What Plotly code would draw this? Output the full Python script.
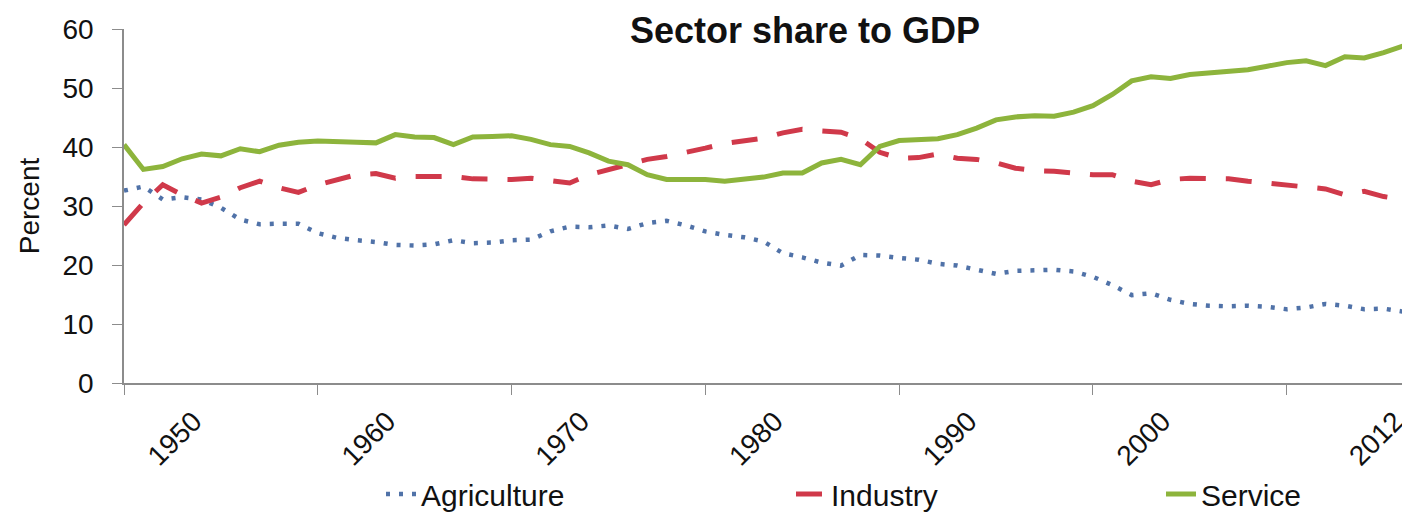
import plotly.graph_objects as go

years = list(range(1946, 2013))

agriculture = [32.6, 33.3, 31.1, 31.5, 31.1, 29.7, 27.7, 26.9, 27.0, 27.0,
               25.4, 24.6, 24.2, 23.9, 23.4, 23.3, 23.5, 24.2, 23.7, 23.8,
               24.2, 24.3, 25.7, 26.5, 26.4, 26.7, 26.1, 27.1, 27.5, 26.7,
               25.7, 25.1, 24.7, 24.0, 22.0, 21.3, 20.4, 19.9, 21.7, 21.6,
               21.2, 20.9, 20.2, 19.9, 19.2, 18.5, 19.0, 19.1, 19.2, 18.9,
               18.0, 16.6, 14.9, 15.2, 14.1, 13.4, 13.1, 13.0, 13.1, 12.9,
               12.5, 12.8, 13.4, 13.1, 12.5, 12.6, 12.1]

industry = [26.8, 30.5, 33.6, 31.9, 30.5, 31.5, 33.1, 34.2, 33.1, 32.3,
            33.6, 34.5, 35.3, 35.5, 34.7, 35.0, 35.1, 35.0, 34.6, 34.5,
            34.5, 34.7, 34.2, 33.9, 35.3, 36.2, 37.0, 37.9, 38.4, 39.0,
            39.8, 40.6, 41.0, 41.5, 42.4, 43.0, 42.7, 42.5, 41.4, 39.1,
            38.1, 38.2, 38.8, 38.1, 37.9, 37.3, 36.4, 36.0, 35.9, 35.5,
            35.3, 35.3, 34.2, 33.6, 34.5, 34.7, 34.6, 34.6, 34.2, 33.9,
            33.6, 33.1, 32.9, 31.9, 32.5, 31.6, 31.1]

service = [40.4, 36.2, 36.7, 38.0, 38.8, 38.5, 39.7, 39.2, 40.3, 40.8,
           41.0, 41.0, 40.8, 40.7, 42.1, 41.7, 41.6, 40.4, 41.7, 41.8,
           41.9, 41.3, 40.4, 40.1, 39.0, 37.6, 37.0, 35.3, 34.5, 34.5,
           34.5, 34.2, 34.5, 34.9, 35.6, 35.6, 37.3, 37.9, 37.0, 40.1,
           41.1, 41.3, 41.4, 42.1, 43.2, 44.6, 45.1, 45.3, 45.2, 45.9,
           47.0, 48.9, 51.2, 51.9, 51.6, 52.3, 52.6, 52.8, 53.1, 53.7,
           54.3, 54.6, 53.8, 55.3, 55.1, 56.0, 57.1]

tick_years = [1950, 1960, 1970, 1980, 1990, 2000, 2012]
tick_text = [str(y) for y in tick_years]
y_ticks = [0, 10, 20, 30, 40, 50, 60]

FONT = "Liberation Sans, Arial, sans-serif"
AXIS_COLOR = "#8c8c8c"

# The page body has an 8px margin, so the figure is sized to fill the window exactly.
W, H = 1402, 504

fig = go.Figure()
fig.add_trace(go.Scatter(
    x=years, y=agriculture, mode="lines", name="Agriculture",
    line=dict(color="#5072a8", width=4.5, dash="4px,9px"),
    legend="legend", showlegend=True))
fig.add_trace(go.Scatter(
    x=years, y=industry, mode="lines", name="Industry",
    line=dict(color="#d0394a", width=5, dash="26px,20px"),
    legend="legend2", showlegend=True))
fig.add_trace(go.Scatter(
    x=years, y=service, mode="lines", name="Service",
    line=dict(color="#8db43c", width=5),
    legend="legend3", showlegend=True))

legend_common = dict(orientation="h", xref="container", yref="container",
                     xanchor="left", yanchor="middle", y=1 - 486 / H,
                     font=dict(family=FONT, size=30, color="#111111"),
                     bgcolor="rgba(0,0,0,0)", borderwidth=0)

fig.update_layout(
    width=W, height=H,
    showlegend=True,
    paper_bgcolor="white", plot_bgcolor="white",
    margin=dict(l=116, r=7, t=21, b=129, autoexpand=False),
    title=dict(text="<b>Sector share to GDP</b>", x=797 / W, xanchor="center",
               xref="container", yref="container", y=1 - 22 / H, yanchor="middle",
               font=dict(family=FONT, size=36, color="#111111")),
    legend=dict(legend_common, x=373 / W),
    legend2=dict(legend_common, x=783 / W),
    legend3=dict(legend_common, x=1153 / W),
    xaxis=dict(range=[1946, 2012], tickmode="array", tickvals=tick_years,
               ticktext=tick_text, tickangle=-45, ticks="",
               ticklabelstandoff=9, ticklabelshift=-8, ticklabeloverflow="allow",
               minor=dict(ticks="outside", tick0=1946, dtick=10, ticklen=10,
                          tickcolor=AXIS_COLOR, tickwidth=1, showgrid=False),
               showline=True, linecolor=AXIS_COLOR, linewidth=1.5,
               showgrid=False, zeroline=False,
               tickfont=dict(family=FONT, size=28, color="#111111")),
    yaxis=dict(range=[0, 60], tickmode="array", tickvals=y_ticks,
               ticks="outside", ticklen=10, tickcolor=AXIS_COLOR,
               ticklabelstandoff=13,
               showline=True, linecolor=AXIS_COLOR, linewidth=1.5,
               showgrid=False, zeroline=False,
               title=dict(text="Percent", standoff=15,
                          font=dict(family=FONT, size=28, color="#111111")),
               tickfont=dict(family=FONT, size=28, color="#111111")),
)

fig.write_html("out.html")
